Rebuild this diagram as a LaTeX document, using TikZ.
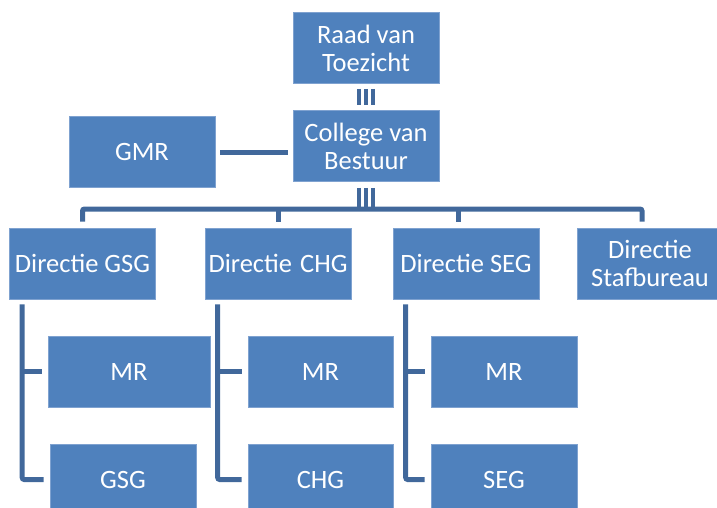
\documentclass[tikz,border=0pt]{standalone}
\usepackage{fontspec}
\setmainfont{Carlito}
\usepackage{tikz}
\definecolor{boxblue}{HTML}{4F81BD}
\definecolor{boxedge}{HTML}{7FA2D0}
\definecolor{lineblue}{HTML}{41689B}
\tikzstyle{box}=[rectangle, fill=boxblue, draw=boxedge, line width=.6pt, text=white, align=center, minimum width=146pt, minimum height=71pt, inner sep=0pt, font=\fontsize{26.5}{28}\selectfont]
\tikzstyle{link}=[draw=lineblue, line width=5pt, rounded corners=2pt]
\tikzstyle{bars}=[draw=lineblue, line width=4pt]

\begin{document}
\begin{tikzpicture}[x=1pt, y=-1pt]
    \clip (0,0) rectangle (717,508);
    \node[box] (raad) at (366,48) {Raad van\\Toezicht};
    \node[box] (college) at (366,146) {College van\\Bestuur};
    \node[box] (gmr) at (142,152) {GMR};
    \node[box] (dgsg) at (82.5,263.5) {Directie GSG};
    \node[box] (dchg) at (278,263.5) {Directie\kern2pt{} CHG};
    \node[box] (dseg) at (466,263.5) {Directie SEG};
    \node[box] (dstaf) at (650,263.5) {Directie\\Stafbureau};
    \node[box, minimum width=162pt] (mrgsg) at (129,371.5) {MR};
    \node[box] (gsg) at (123,479.5) {GSG};
    \node[box, minimum width=145pt] (mrchg) at (320.5,371.5) {MR};
    \node[box, minimum width=145pt] (chg) at (320.5,479.5) {CHG};
    \node[box] (mrseg) at (504,371.5) {MR};
    \node[box] (seg) at (504,479.5) {SEG};
    \coordinate (bus) at (366,209);
    % toezicht en bestuur
    \foreach \dx in {-7,0,7}
    {
      \draw[bars] ([xshift=\dx pt,yshift=-5pt]raad.south) -- ([xshift=\dx pt,yshift=5pt]college.north);
      \draw[bars] ([xshift=\dx pt,yshift=-6pt]college.south) -- ([xshift=\dx pt]bus);
    }
    \draw[link] ([xshift=5pt]gmr.east) -- ([xshift=-5pt]gmr.east -| college.west);
    % directies
    \draw[link] ([yshift=6pt]dgsg.north) |- (bus) -| ([xshift=-8pt,yshift=6pt]dstaf.north);
    \draw[link] ([yshift=6pt]dchg.north) -- (dchg.north |- bus);
    \draw[link] ([xshift=-8pt,yshift=6pt]dseg.north) -- ([xshift=-8pt]dseg.north |- bus);
    % MR en faculteit onder elke directie
    \foreach \dir/\mr/\fac in {dgsg/mrgsg/gsg, dchg/mrchg/chg, dseg/mrseg/seg}
    {
      \coordinate (s\dir) at ([xshift=13pt,yshift=-5pt]\dir.south west);
      \draw[link] (s\dir) |- ([xshift=-6pt]\fac.west);
      \draw[link] (s\dir |- \mr.west) -- ([xshift=-6pt]\mr.west);
    }
\end{tikzpicture}
\end{document}
